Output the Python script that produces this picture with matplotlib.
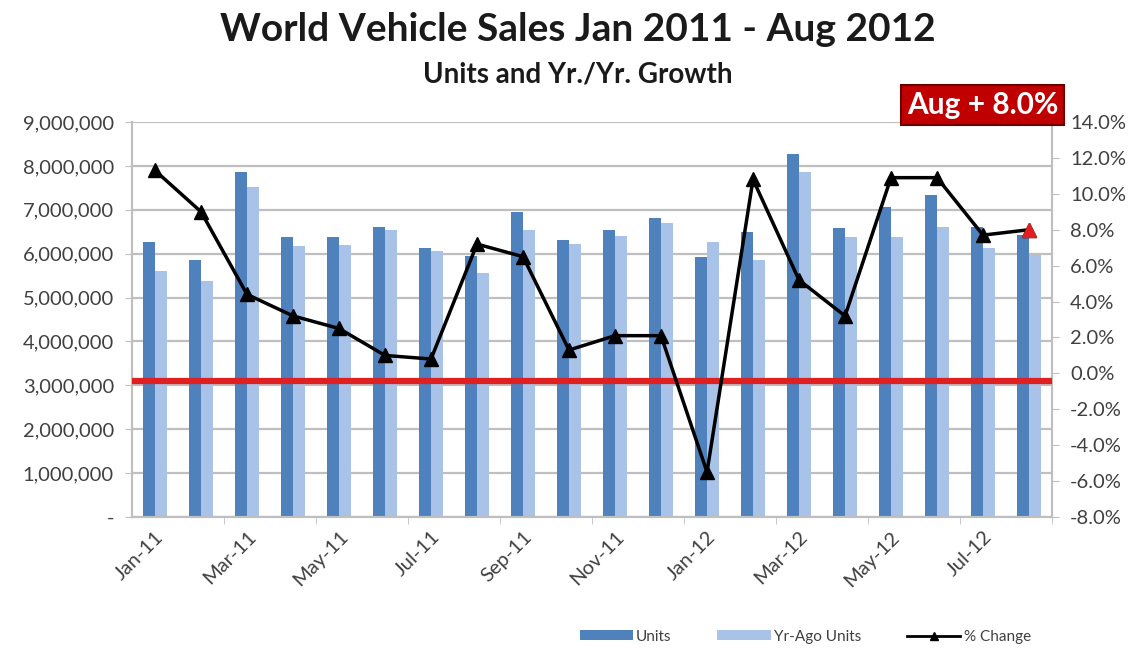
import matplotlib
matplotlib.use("Agg")
import matplotlib.pyplot as plt
import numpy as np
from matplotlib.lines import Line2D
from matplotlib.patches import Patch
from matplotlib.ticker import FuncFormatter, MultipleLocator

plt.rcParams["font.family"] = ["Lato", "DejaVu Sans"]

# ── Data ─────────────────────────────────────────────────────────────────────
months = ["Jan-11", "Feb-11", "Mar-11", "Apr-11", "May-11", "Jun-11", "Jul-11",
          "Aug-11", "Sep-11", "Oct-11", "Nov-11", "Dec-11", "Jan-12", "Feb-12",
          "Mar-12", "Apr-12", "May-12", "Jun-12", "Jul-12", "Aug-12"]
units = [6270000, 5850000, 7870000, 6370000, 6370000, 6600000, 6130000,
         5950000, 6950000, 6320000, 6540000, 6820000, 5920000, 6500000,
         8280000, 6590000, 7070000, 7330000, 6610000, 6420000]
yr_ago_units = [5600000, 5380000, 7510000, 6170000, 6200000, 6550000, 6070000,
                5550000, 6540000, 6220000, 6400000, 6690000, 6270000, 5850000,
                7870000, 6390000, 6390000, 6610000, 6130000, 5970000]
pct_change = [11.3, 9.0, 4.4, 3.2, 2.5, 1.0, 0.8, 7.2, 6.5, 1.3, 2.1, 2.1,
              -5.5, 10.8, 5.2, 3.2, 10.9, 10.9, 7.7, 8.0]

# ── Colours ──────────────────────────────────────────────────────────────────
C_UNITS = "#4F81BD"
C_YRAGO = "#A9C3E8"
C_GRID = "#BFBFBF"
C_TEXT = "#404040"
C_RED = "#E02020"

fig = plt.figure(figsize=(11.42, 6.51), dpi=100)
ax = fig.add_axes([0.1156, 0.2058, 0.8056, 0.6068])
ax2 = ax.twinx()

x = np.arange(len(months))
bw = 0.27
ax.bar(x - bw / 2, units, width=bw, color=C_UNITS, zorder=2)
ax.bar(x + bw / 2, yr_ago_units, width=bw, color=C_YRAGO, zorder=2)

ax.set_xlim(-0.5, len(months) - 0.5)
ax.set_ylim(0, 9000000)
ax.yaxis.set_major_locator(MultipleLocator(1000000))
ax.yaxis.set_major_formatter(FuncFormatter(lambda v, p: "-" if v == 0 else f"{int(v):,}"))
ax.grid(axis="y", color=C_GRID, lw=1.6, zorder=0)
ax.set_axisbelow(True)

ax.set_xticks(x[::2])
ax.set_xticklabels(months[::2], rotation=45, ha="right", rotation_mode="anchor",
                   fontsize=14.5, color=C_TEXT)
ax.set_xticks(x[1::2] + 0.5, minor=True)
ax.tick_params(axis="x", which="major", length=0, pad=8)
ax.tick_params(axis="x", which="minor", length=5, color=C_GRID)
ax.tick_params(axis="y", labelsize=14.5, labelcolor=C_TEXT, color=C_GRID, length=5, pad=8)

# growth line on the right axis
ax2.plot(x, pct_change, color="black", lw=2.5, marker="^", ms=10, zorder=4)
ax2.plot(x[-1], pct_change[-1], marker="^", ms=10, color=C_RED, zorder=5)
ax2.axhline(-0.45, color=C_RED, lw=4.5, zorder=3)
ax2.set_ylim(-8, 14)
ax2.yaxis.set_major_locator(MultipleLocator(2))
ax2.yaxis.set_major_formatter(FuncFormatter(lambda v, p: f"{v:.1f}%"))
ax2.tick_params(axis="y", labelsize=14.5, labelcolor=C_TEXT, color=C_GRID, length=5, pad=8)

for a in (ax, ax2):
    a.spines["top"].set_visible(False)
    for s in ("left", "right", "bottom"):
        a.spines[s].set_color(C_GRID)
        a.spines[s].set_linewidth(1.5)

# ── Titles and callout ───────────────────────────────────────────────────────
fig.text(0.506, 0.955, "World Vehicle Sales Jan 2011 - Aug 2012", ha="center", va="center",
         fontsize=28, fontweight="bold", color="#1a1a1a")
fig.text(0.506, 0.885, "Units and Yr./Yr. Growth", ha="center", va="center",
         fontsize=20, fontweight="bold", color="#1a1a1a")
fig.text(0.8605, 0.839, "Aug + 8.0%", ha="center", va="center", fontsize=21.5,
         fontweight="bold", color="white",
         bbox=dict(boxstyle="square,pad=0.2", facecolor="#C00000", edgecolor="#6B0000", lw=1.5))

# ── Legend ───────────────────────────────────────────────────────────────────
handles = [
    Patch(facecolor=C_UNITS, label="Units"),
    Patch(facecolor=C_YRAGO, label="Yr-Ago Units"),
    Line2D([0], [0], color="black", lw=2, marker="^", ms=6, label="% Change"),
]
fig.legend(handles=handles, loc="center", bbox_to_anchor=(0.705, 0.022), ncol=3,
           frameon=False, fontsize=11, handlelength=3.5, handleheight=0.6,
           columnspacing=3.0, handletextpad=0.2, labelcolor=C_TEXT)

fig.savefig("out.png", dpi=100, facecolor="white")
